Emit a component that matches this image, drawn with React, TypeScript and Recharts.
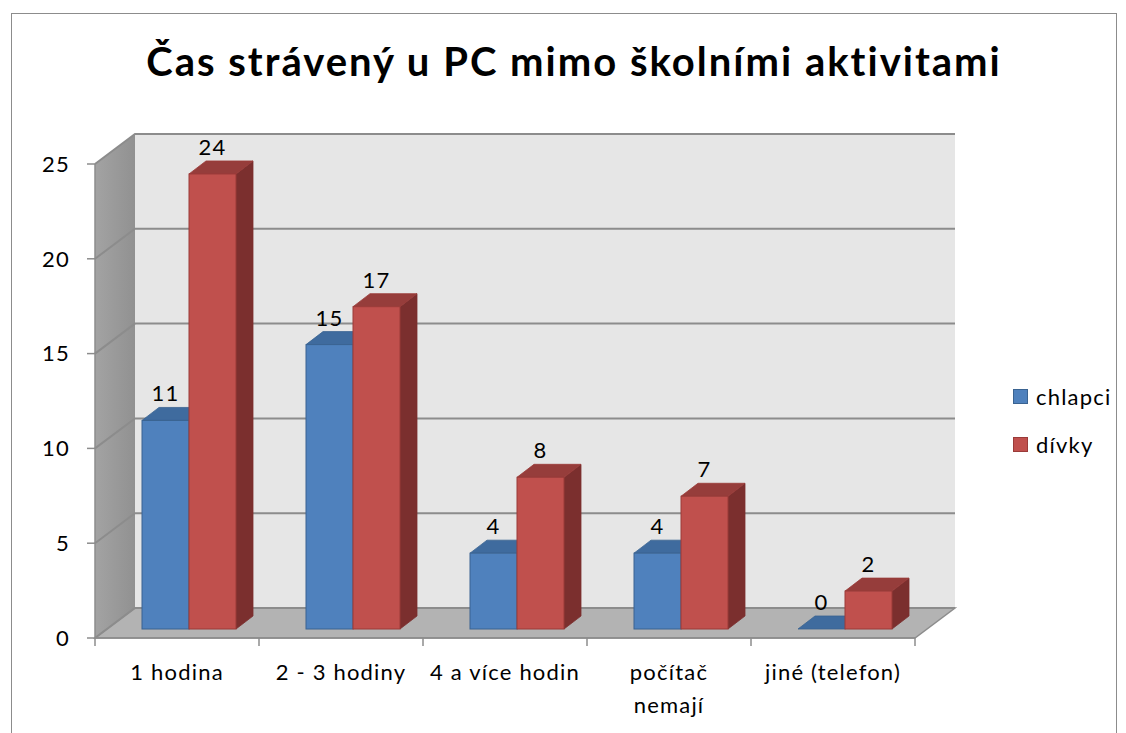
import { BarChart, Bar, XAxis, YAxis, ReferenceArea, LabelList } from 'recharts'

const TITLE = 'Čas strávený u PC mimo školními aktivitami'
const CATEGORIES = ['1 hodina', '2 - 3 hodiny', '4 a více hodin', 'počítač\nnemají', 'jiné (telefon)']
const CHLAPCI = [11, 15, 4, 4, 0]
const DIVKY = [24, 17, 8, 7, 2]
const Y_TICKS = [0, 5, 10, 15, 20, 25]
const Y_MAX = 25

const SERIES = [
	{ key: 'chlapci', name: 'chlapci', front: '#4F81BD', top: '#3F6B9E', side: '#375C88', edge: '#3A6391' },
	{ key: 'divky', name: 'dívky', front: '#C0504D', top: '#963D3B', side: '#7B2F2E', edge: '#9A3B39' },
]

const rows = CATEGORIES.map((c, i) => ({ name: c, chlapci: CHLAPCI[i], divky: DIVKY[i] }))

// 3D offsets (front plane -> back wall, front plane -> bar face, bar depth)
const WALL_DX = 40
const WALL_DY = -30
const BAR_DX = 12
const BAR_DY = -9
const DEPTH_DX = 17
const DEPTH_DY = -13

const W = 1126
const H = 733
const MARGIN = { top: 164, right: 211, bottom: 35, left: 35 }
const PLOT_W = W - MARGIN.left - 60 - MARGIN.right
const GRID = '#8C8C8C'
const FONT = 'Lato, "Open Sans", sans-serif'
const TXT = { fontSize: 22, letterSpacing: 1.2 }

function Walls(props: any) {
	const { x, y, width, height } = props
	const bx = x + WALL_DX
	const by = y + WALL_DY
	return (
		<g>
			<defs>
				<linearGradient id='leftWall' x1='0' y1='0' x2='1' y2='0'>
					<stop offset='0%' stopColor='#A3A3A3' />
					<stop offset='100%' stopColor='#919191' />
				</linearGradient>
			</defs>
			<rect x={bx} y={by} width={width} height={height} fill='#E6E6E6' />
			<polygon
				points={`${x},${y} ${bx},${by} ${bx},${by + height} ${x},${y + height}`}
				fill='url(#leftWall)'
			/>
			<polygon
				points={`${x},${y + height} ${x + width},${y + height} ${bx + width},${by + height} ${bx},${by + height}`}
				fill='#B3B3B3'
				stroke={GRID}
				strokeWidth={1.5}
			/>
			{Y_TICKS.map(t => {
				const ly = y + height * (1 - t / Y_MAX)
				return (
					<polyline
						key={t}
						points={`${x},${ly} ${bx},${ly + WALL_DY} ${bx + width},${ly + WALL_DY}`}
						fill='none'
						stroke={GRID}
						strokeWidth={2}
					/>
				)
			})}
		</g>
	)
}

function Bar3D(props: any) {
	const { x, y, width, height, s } = props
	const fx = x + BAR_DX
	const fy = y + BAR_DY
	const w = width
	const h = Math.max(height, 0)
	return (
		<g>
			<polygon
				points={`${fx + w},${fy} ${fx + w + DEPTH_DX},${fy + DEPTH_DY} ${fx + w + DEPTH_DX},${fy + h + DEPTH_DY} ${fx + w},${fy + h}`}
				fill={s.side}
				stroke={s.side}
				strokeWidth={0.8}
			/>
			<polygon
				points={`${fx},${fy} ${fx + w},${fy} ${fx + w + DEPTH_DX},${fy + DEPTH_DY} ${fx + DEPTH_DX},${fy + DEPTH_DY}`}
				fill={s.top}
				stroke={s.edge}
				strokeWidth={0.8}
			/>
			{h > 0 && (
				<rect x={fx} y={fy} width={w} height={h} fill={s.front} stroke={s.edge} strokeWidth={1} />
			)}
		</g>
	)
}

function ValueLabel(props: any) {
	const { x, y, width, value } = props
	return (
		<text x={x + BAR_DX + width / 2} y={y + BAR_DY - 19} textAnchor='middle' fill='#000' style={TXT}>
			{value}
		</text>
	)
}

function XTick(props: any) {
	const { x, y, payload, index } = props
	const band = PLOT_W / CATEGORIES.length
	const lines = String(payload.value).split('\n')
	return (
		<g>
			<line x1={x - band / 2} y1={y} x2={x - band / 2} y2={y + 8} stroke={GRID} strokeWidth={1.5} />
			{index === CATEGORIES.length - 1 && (
				<line x1={x + band / 2} y1={y} x2={x + band / 2} y2={y + 8} stroke={GRID} strokeWidth={1.5} />
			)}
			{lines.map((l, i) => (
				<text key={i} x={x} y={y + 42 + i * 33} textAnchor='middle' fill='#000' style={TXT}>
					{l}
				</text>
			))}
		</g>
	)
}

export default function App() {
	return (
		<div
			style={{
				position: 'absolute',
				left: 0,
				top: 0,
				width: W,
				height: H,
				overflow: 'hidden',
				background: '#fff',
				fontFamily: FONT,
			}}
		>
			{/* Frame */}
			<div
				style={{
					position: 'absolute',
					left: 11,
					top: 13,
					width: 1104,
					height: 760,
					border: '1.5px solid #8C8C8C',
				}}
			/>

			{/* Title */}
			<div
				style={{
					position: 'absolute',
					left: 0,
					width: 1148,
					top: 37,
					textAlign: 'center',
					fontSize: 40,
					letterSpacing: 2,
					fontWeight: 700,
					color: '#000',
				}}
			>
				{TITLE}
			</div>

			<div style={{ position: 'absolute', left: 0, top: 0 }}>
				<BarChart width={W} height={H} data={rows} margin={MARGIN} barGap={0} barSize={47}>
					<ReferenceArea y1={0} y2={Y_MAX} shape={Walls} ifOverflow='visible' />
					<XAxis
						dataKey='name'
						height={60}
						interval={0}
						tickLine={false}
						tickSize={0}
						tickMargin={0}
						axisLine={{ stroke: GRID, strokeWidth: 1.5 }}
						tick={<XTick />}
					/>
					<YAxis
						width={60}
						domain={[0, Y_MAX]}
						ticks={Y_TICKS}
						tickSize={8}
						tickMargin={17}
						axisLine={{ stroke: GRID, strokeWidth: 1.5 }}
						tickLine={{ stroke: GRID, strokeWidth: 1.5 }}
						tick={{ fill: '#000', style: TXT }}
					/>
					{SERIES.map(s => (
						<Bar
							key={s.key}
							dataKey={s.key}
							name={s.name}
							fill={s.front}
							isAnimationActive={false}
							shape={(p: any) => <Bar3D {...p} s={s} />}
						>
							<LabelList dataKey={s.key} content={<ValueLabel />} />
						</Bar>
					))}
				</BarChart>
			</div>

			{/* Legend */}
			<div style={{ position: 'absolute', left: 1013, top: 380 }}>
				{SERIES.map((s, i) => (
					<div
						key={s.key}
						style={{ display: 'flex', alignItems: 'center', height: 32, marginBottom: i === 0 ? 16 : 0 }}
					>
						<div
							style={{
								width: 13,
								height: 13,
								background: s.front,
								border: `1px solid ${s.edge}`,
								marginRight: 8,
							}}
						/>
						<span style={{ ...TXT, color: '#000' }}>{s.name}</span>
					</div>
				))}
			</div>
		</div>
	)
}
